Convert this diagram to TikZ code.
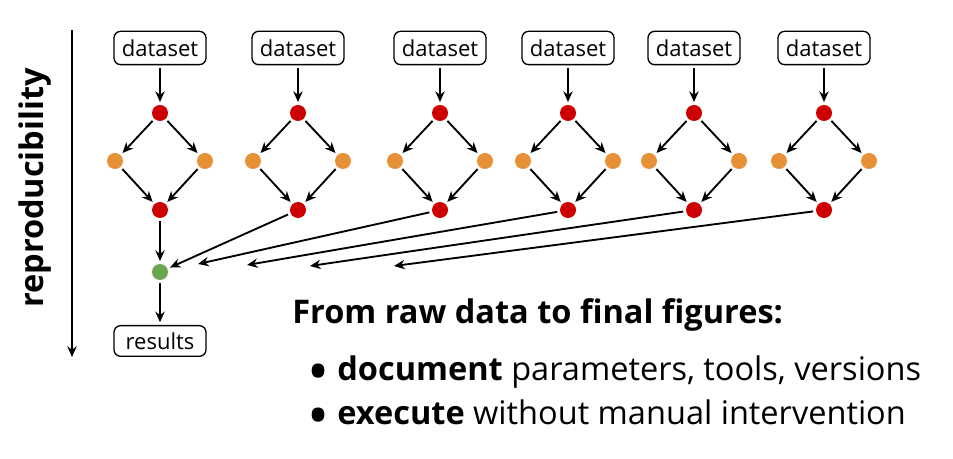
\documentclass[tikz,border=0pt]{standalone}
\usepackage{fontspec}
\setmainfont{Open Sans}
\usetikzlibrary{arrows.meta,positioning,calc}
\definecolor{vred}{HTML}{CC0000}
\definecolor{vorange}{HTML}{E69138}
\definecolor{vgreen}{HTML}{6AA84F}
\newcommand{\bigbullet}{\smash{\raisebox{-8.5pt}{\fontsize{44}{44}\selectfont\textbullet}}\hspace{6pt}}
\tikzset{
  box/.style={draw=black,fill=white,rounded corners=5pt,line width=1pt,minimum width=69pt,minimum height=25pt,inner sep=0pt,font=\fontsize{16.5}{18}\selectfont},
  dot/.style={circle,inner sep=0pt,minimum size=12pt},
  rdot/.style={dot,fill=vred},
  odot/.style={dot,fill=vorange},
  gdot/.style={dot,fill=vgreen},
  arr/.style={-{Stealth[length=8pt,width=7pt]},line width=1.4pt,shorten >=2pt,shorten <=2pt},
  big/.style={font=\fontsize{24.4}{28}\selectfont,inner sep=0pt},
}
\begin{document}
\begin{tikzpicture}[x=0.75pt,y=-0.75pt]
  \useasboundingbox (0,0) rectangle (953,459);
  % one pipeline per dataset
  \foreach \i/\x in {1/160,2/298,3/440,4/568,5/694,6/824} {
    \node[box] (d\i) at (\x,48) {dataset};
    \node[rdot] (t\i) at (\x,113) {};
    \node[odot] (l\i) at (\x-45,161) {};
    \node[odot] (r\i) at (\x+45,161) {};
    \node[rdot] (b\i) at (\x,210) {};
    \draw[arr] (d\i) -- (t\i);
    \draw[arr] (t\i) -- (l\i); \draw[arr] (t\i) -- (r\i);
    \draw[arr] (l\i) -- (b\i); \draw[arr] (r\i) -- (b\i);
  }
  \node[gdot] (g) at (160,272) {};
  \node[box,minimum height=23pt] (res) at (160,341) {results};
  \draw[arr] (b1) -- (g); \draw[arr] (b2) -- (g); \draw[arr] (g) -- (res);
  % arrows that stop short of the merge
  \coordinate (e3) at (198,264); \coordinate (e4) at (247,265);
  \coordinate (e5) at (310,266); \coordinate (e6) at (394,266);
  \foreach \i in {3,4,5,6} \draw[arr,shorten >=0pt] (b\i) -- (e\i);
  % reproducibility axis
  \coordinate (ax0) at (72,30); \coordinate (ax1) at (72,357);
  \draw[arr,shorten >=0pt,shorten <=0pt] (ax0) -- (ax1);
  \node[big,rotate=90] (rep) at (35,188) {\textbf{reproducibility}};
  % text
  \node[big,anchor=base west] (head) at (292,324) {\textbf{From raw data to final figures:}};
  \node[big,anchor=base west] (it1) at (307,381) {\bigbullet\textbf{document} parameters, tools, versions};
  \node[big,anchor=base west] (it2) at (307,425) {\bigbullet\textbf{execute} without manual intervention};
\end{tikzpicture}
\end{document}
